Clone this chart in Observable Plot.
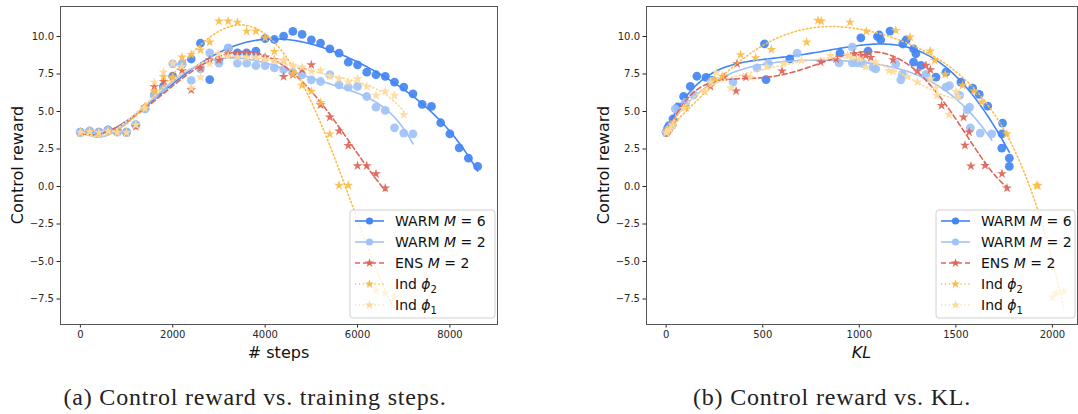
<!DOCTYPE html>
<html>
<head>
<meta charset="utf-8">
<script src="https://cdn.jsdelivr.net/npm/d3@7"></script>
<script src="https://cdn.jsdelivr.net/npm/@observablehq/plot@0.6"></script>
<style>
  html, body { margin: 0; padding: 0; background: #fff; }
  #root { position: relative; width: 1078px; height: 414px; overflow: hidden; font-family: "DejaVu Sans", sans-serif; }
  #root svg.plot { position: absolute; top: 0; }
  .cap { position: absolute; top: 383px; line-height: 28px; font-family: "Liberation Serif", serif; font-size: 24px; letter-spacing: 0.8px; color: #222; white-space: nowrap; transform: translateX(-50%); }
</style>
</head>
<body>
<div id="root"></div>
<script>
// ---------------- data: left panel (reward vs. # steps) ----------------
const steps = [0,200,400,600,800,1000,1200,1400,1600,1800,2000,2200,2400,2600,2800,3000,3200,3400,3600,3800,4000,4200,4400,4600,4800,5000,5200,5400,5600,5800,6000,6200,6400,6600,6800,7000,7200,7400,7600,7800,8000,8200,8400,8600];
const warm6Reward = [3.62,3.69,3.62,3.78,3.65,3.62,4.11,5.2,6.1,6.67,7.35,8.15,8.5,9.55,7.13,8.45,9.2,8.91,8.91,9.02,9.86,9.8,10.03,10.34,10.14,9.78,9.56,9.18,8.89,8.29,8.11,7.62,7.45,7.34,6.96,6.63,6.18,5.47,5.34,4.25,3.51,2.58,1.89,1.34];
const warm2Reward = [3.6,3.7,3.6,3.75,3.62,3.6,4.1,5.18,6.07,6.5,8.18,8.18,7.07,7.84,8.91,8.22,9.24,8.22,8.22,8.06,8.06,7.91,7.8,7.6,7.45,7.11,7.0,7.45,6.78,6.63,6.67,6.0,5.29,5.07,3.91,3.56,3.51];
const ensReward = [3.6,3.65,3.6,3.7,3.7,3.6,4.0,5.3,6.66,7.0,7.3,7.73,6.44,7.9,8.44,8.44,8.84,8.89,8.84,8.7,8.62,8.44,7.33,7.45,7.8,8.11,5.44,4.62,3.7,2.73,1.38,1.38,0.84,-0.11];
const ind2Steps = [0,200,400,600,800,1000,1200,1400,1600,1800,2000,2200,2400,2600,2800,3000,3200,3400,3600,3800,4000,4200,4400,4600,4800,5000,5200,5400,5600,5800,6400,6600,6800];
const ind2Reward = [3.6,3.7,3.6,3.7,3.65,3.6,4.1,5.3,6.35,7.33,7.29,8.62,8.8,9.1,9.62,11.02,11.02,10.95,10.35,10.35,9.91,9.0,8.4,7.5,6.74,6.34,5.6,3.5,0.07,0.07,-6.93,-7.09,-7.38];
const ind1Reward = [3.6,3.65,3.6,3.7,3.6,3.6,4.1,5.2,6.95,7.62,8.2,8.0,6.57,7.29,8.18,8.84,8.7,8.62,8.62,8.62,8.5,8.4,8.45,8.07,7.96,7.69,7.74,7.34,7.18,6.96,7.18,6.67,6.07,6.34,6.07,4.78];

// ---------------- data: right panel (reward vs. KL) ----------------
const warm6KL = [0,5,8,15,35,60,90,125,159,206,237,509,517,640,900,1008,1045,1094,1103,1111,1159,1225,1243,1281,1293,1281,1319,1397,1449,1526,1587,1621,1665,1742,1739,1738,1777,1777];
const warm6KLReward = [3.6,3.75,3.9,4.06,4.5,5.3,6.0,6.67,7.35,7.27,7.07,9.51,7.13,8.5,8.89,9.91,9.03,10.0,10.1,9.78,10.36,9.5,9.78,9.18,8.85,8.29,8.07,7.29,7.62,6.96,6.56,6.14,5.36,4.23,3.51,2.56,1.89,1.34];
const warm2KL = [0,8,15,30,47,100,142,235,346,470,530,678,895,964,964,990,1018,1070,1085,1189,1215,1223,1345,1449,1467,1519,1559,1571,1575,1626,1686];
const warm2KLReward = [3.6,3.75,3.85,4.07,5.18,5.6,6.11,7.0,6.96,7.9,8.2,8.89,8.24,9.29,8.24,8.24,8.2,7.95,7.84,8.18,7.11,7.47,7.47,6.62,6.73,6.07,5.11,5.29,3.91,3.56,3.51];
const ensKL = [0,6,12,40,100,229,300,362,367,414,600,800,880,973,1007,1033,1060,1175,1301,1345,1368,1426,1540,1569,1547,1578,1651,1739,1765];
const ensKLReward = [3.6,3.7,3.8,4.3,5.3,6.67,7.3,6.36,8.18,7.29,7.7,8.3,8.5,8.84,8.73,8.74,8.6,8.45,7.69,8.07,7.78,5.4,4.62,3.63,2.74,1.36,1.4,0.85,-0.11];
const ind2KL = [0,8,20,40,100,199,250,290,385,463,545,727,786,803,952,1037,1189,1263,1367,1391,1445,1535,1594,1634,1764,1918,1925,2001,2019,2059];
const ind2KLReward = [3.6,3.75,3.9,4.3,5.3,6.33,7.2,7.35,8.78,8.58,9.13,9.62,11.07,11.02,10.95,10.35,10.4,9.96,9.03,8.4,7.47,6.74,6.36,5.63,3.51,0.07,0.05,-7.38,-7.11,-6.98];
const ind1KL = [0,8,18,35,90,199,230,260,335,436,520,609,700,851,938,960,1000,1033,1085,1154,1175,1249,1301,1370,1397,1402,1465,1500,1514];
const ind1KLReward = [3.6,3.7,3.8,4.1,5.2,6.36,6.95,7.6,6.56,7.29,8.0,8.18,8.4,8.73,8.73,8.6,8.5,7.96,8.29,7.73,7.69,7.33,6.96,7.18,6.58,6.07,4.78,6.34,6.0];

// ---------------- labels / ticks ----------------
const seriesNames = ["WARM M = 6", "WARM M = 2", "ENS M = 2", "Ind ϕ2", "Ind ϕ1"];
const stepTicks = [0, 2000, 4000, 6000, 8000];
const klTicks = [0, 500, 1000, 1500, 2000];
const rewardTicks = [-7.5, -5, -2.5, 0, 2.5, 5, 7.5, 10];
const yLabel = "Control reward";
const xLabelLeft = "# steps";
const xLabelRight = "KL";
const captions = ["(a) Control reward vs. training steps.", "(b) Control reward vs. KL."];

// ---------------- styles ----------------
const styles = [
  {color: "#4285f4", symbol: "circle", dash: null,      r: 4.4},
  {color: "#a0c2f7", symbol: "circle", dash: null,      r: 4.4},
  {color: "#de6557", symbol: "star",   dash: "5,3",     r: 3.1},
  {color: "#fbbd4a", symbol: "star",   dash: "1.3,2.6", r: 3.1},
  {color: "#fdda9c", symbol: "star",   dash: "1.3,2.6", r: 3.1}
];

function zipPts(xs, ys) { return ys.map((y, i) => ({x: xs[i], y})); }

const leftSeries = [
  zipPts(steps, warm6Reward), zipPts(steps, warm2Reward), zipPts(steps, ensReward),
  zipPts(ind2Steps, ind2Reward), zipPts(steps, ind1Reward)
];
const rightSeries = [
  zipPts(warm6KL, warm6KLReward), zipPts(warm2KL, warm2KLReward), zipPts(ensKL, ensKLReward),
  zipPts(ind2KL, ind2KLReward), zipPts(ind1KL, ind1KLReward)
];

// least-squares polynomial fit (regression transform of the data)
function polyfit(pts, deg) {
  const xs = pts.map(p => p.x), ys = pts.map(p => p.y);
  const x0 = d3.min(xs), x1 = d3.max(xs), s = (x1 - x0) || 1;
  const n = deg + 1;
  const A = Array.from({length: n}, () => new Array(n + 1).fill(0));
  for (let k = 0; k < xs.length; k++) {
    const t = (xs[k] - x0) / s;
    const pw = []; for (let i = 0; i < 2 * n; i++) pw.push(Math.pow(t, i));
    for (let i = 0; i < n; i++) {
      for (let j = 0; j < n; j++) A[i][j] += pw[i + j];
      A[i][n] += ys[k] * pw[i];
    }
  }
  for (let c = 0; c < n; c++) {
    let p = c; for (let r = c + 1; r < n; r++) if (Math.abs(A[r][c]) > Math.abs(A[p][c])) p = r;
    [A[c], A[p]] = [A[p], A[c]];
    for (let r = 0; r < n; r++) if (r !== c) {
      const f = A[r][c] / A[c][c];
      for (let j = c; j <= n; j++) A[r][j] -= f * A[c][j];
    }
  }
  const coef = A.map((row, i) => row[n] / row[i]);
  const f = x => { const t = (x - x0) / s; let v = 0; for (let i = n - 1; i >= 0; i--) v = v * t + coef[i]; return v; };
  const out = [];
  for (let i = 0; i <= 200; i++) { const x = x0 + (x1 - x0) * i / 200; out.push({x, y: f(x)}); }
  return out;
}

const fmtY = d => d.toFixed(1).replace("-", "\u2212");

function makePanel(series, xDomain, xTicks, deg, width, frameW) {
  const marks = [Plot.frame({stroke: "#555", strokeWidth: 1})];
  series.forEach((pts, i) => {
    const st = styles[i];
    marks.push(Plot.line(polyfit(pts, deg), {x: "x", y: "y", stroke: st.color, strokeWidth: 1.6,
      strokeDasharray: st.dash, clip: true}));
    marks.push(Plot.dot(pts, {x: "x", y: "y", fill: st.color, r: st.r, symbol: st.symbol, stroke: "none", fillOpacity: 0.92}));
  });
  return Plot.plot({
    width, height: 370,
    marginLeft: 60, marginRight: width - 60 - frameW, marginTop: 6, marginBottom: 46,
    style: {fontFamily: "DejaVu Sans", fontSize: "10px", color: "#262626", background: "transparent"},
    x: {domain: xDomain, ticks: xTicks, tickSize: 3.5, tickPadding: 3, label: null, tickFormat: d => String(d)},
    y: {domain: [-9.2, 12.0], ticks: rewardTicks, tickSize: 3.5, tickPadding: 3, label: null, tickFormat: fmtY},
    marks
  });
}

function addDecor(svg, xLabel, italicX, frameW, legendX, legendW) {
  const s = d3.select(svg);
  s.attr("class", "plot");
  s.append("text").attr("transform", "translate(17,165) rotate(-90)").attr("text-anchor", "middle")
    .attr("dominant-baseline", "central").style("font-family", "DejaVu Sans").style("font-size", "16px")
    .attr("fill", "#111").text(yLabel);
  s.append("text").attr("x", 60 + frameW / 2).attr("y", 358).attr("text-anchor", "middle")
    .style("font-family", "DejaVu Sans").style("font-size", "16px").style("font-style", italicX ? "italic" : "normal")
    .attr("fill", "#111").text(xLabel);
  // legend
  const g = s.append("g").style("font-family", "DejaVu Sans").style("font-size", "14px").attr("text-anchor", "start");
  const lx = legendX, ly = 210, lw = legendW, lh = 108;
  g.append("rect").attr("x", lx).attr("y", ly).attr("width", lw).attr("height", lh).attr("rx", 3)
    .attr("fill", "#fff").attr("fill-opacity", 0.8).attr("stroke", "#d0d0d0");
  seriesNames.forEach((name, i) => {
    const st = styles[i];
    const cy = ly + 11 + i * 21;
    g.append("line").attr("x1", lx + 5).attr("x2", lx + 34).attr("y1", cy).attr("y2", cy)
      .attr("stroke", st.color).attr("stroke-width", 1.6).attr("stroke-dasharray", st.dash);
    const size = st.symbol === "star" ? 26 : Math.PI * 3.6 * 3.6;
    const sym = d3.symbol().type(st.symbol === "star" ? d3.symbolStar : d3.symbolCircle).size(size);
    g.append("path").attr("d", sym()).attr("transform", `translate(${lx + 19.5},${cy})`).attr("fill", st.color);
    const t = g.append("text").attr("x", lx + 45).attr("y", cy + 5).attr("fill", "#111").attr("text-anchor", "start");
    if (name.startsWith("Ind")) {
      t.append("tspan").text("Ind ");
      t.append("tspan").style("font-style", "italic").text("ϕ");
      t.append("tspan").attr("dy", 4).style("font-size", "10px").text(name.slice(-1));
    } else {
      const parts = name.split(" M ");
      t.append("tspan").text(parts[0] + " ");
      t.append("tspan").style("font-style", "italic").text("M");
      t.append("tspan").text(" " + parts[1]);
    }
  });
}

const root = document.getElementById("root");
const left = makePanel(leftSeries, [-430, 9030], stepTicks, 5, 540, 437);
addDecor(left, xLabelLeft, false, 437, 350, 145);
left.style.left = "0px";
root.appendChild(left);

const right = makePanel(rightSeries, [-102, 2130], klTicks, 5, 492, 431);
addDecor(right, xLabelRight, true, 431, 350, 139);
right.style.left = "586px";
root.appendChild(right);

captions.forEach((c, i) => {
  const d = document.createElement("div");
  d.className = "cap";
  d.style.left = (i === 0 ? 255 : 832) + "px";
  d.textContent = c;
  root.appendChild(d);
});
</script>
</body>
</html>
